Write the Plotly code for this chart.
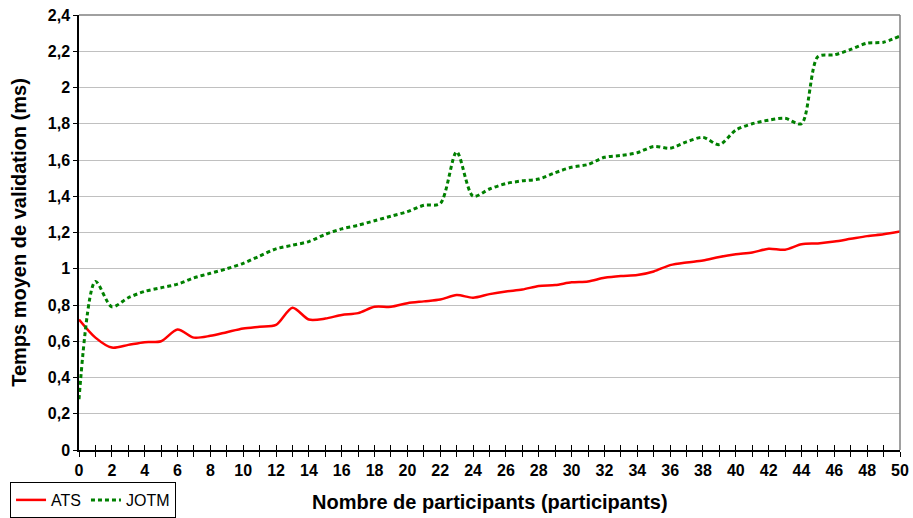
import plotly.graph_objects as go

participants = list(range(0, 51))

ats = [0.72, 0.62, 0.565, 0.58, 0.595, 0.60, 0.665, 0.62, 0.63, 0.65,
       0.67, 0.68, 0.69, 0.785, 0.72, 0.725, 0.745, 0.755, 0.79, 0.79,
       0.81, 0.82, 0.83, 0.855, 0.84, 0.86, 0.875, 0.885, 0.905, 0.91,
       0.925, 0.93, 0.95, 0.96, 0.965, 0.985, 1.02, 1.035, 1.045, 1.065,
       1.08, 1.09, 1.11, 1.105, 1.135, 1.14, 1.15, 1.165, 1.18, 1.19,
       1.205]

jotm = [0.28, 0.93, 0.79, 0.84, 0.875, 0.895, 0.915, 0.95, 0.975, 1.00,
        1.03, 1.07, 1.11, 1.13, 1.15, 1.19, 1.22, 1.24, 1.265, 1.29,
        1.315, 1.35, 1.36, 1.645, 1.40, 1.44, 1.47, 1.485, 1.495, 1.53,
        1.56, 1.575, 1.615, 1.625, 1.64, 1.675, 1.665, 1.70, 1.725, 1.685,
        1.765, 1.80, 1.82, 1.83, 1.80, 2.17, 2.18, 2.21, 2.245, 2.25,
        2.285]

# tick labels (french decimal comma), x labelled every 2 participants
x_ticks = list(range(0, 51))
x_labels = [str(v) if v % 2 == 0 else '' for v in x_ticks]
y_ticks = [0, 0.2, 0.4, 0.6, 0.8, 1.0, 1.2, 1.4, 1.6, 1.8, 2.0, 2.2, 2.4]
y_labels = ['0', '0,2', '0,4', '0,6', '0,8', '1', '1,2', '1,4', '1,6', '1,8', '2', '2,2', '2,4']

font = "Liberation Sans, Arial, sans-serif"

fig = go.Figure()
fig.add_trace(go.Scatter(x=participants, y=ats, mode='lines', name='ATS',
                         line=dict(color='#ff0000', width=2.5, shape='spline', smoothing=0.8)))
fig.add_trace(go.Scatter(x=participants, y=jotm, mode='lines', name='JOTM',
                         line=dict(color='#008000', width=3, shape='spline', smoothing=0.8,
                                   dash='4px,3px')))
# invisible trace on second x axis to draw the upper half of the cross ticks
fig.add_trace(go.Scatter(x=[0, 50], y=[0, 0], xaxis='x2', mode='lines',
                         line=dict(width=0), showlegend=False, hoverinfo='skip'))

fig.update_layout(
    width=913, height=518,
    margin=dict(l=79, r=13, t=15, b=68, autoexpand=False),
    paper_bgcolor='white', plot_bgcolor='white',
    font=dict(family=font, color='black'),
    xaxis=dict(
        range=[0, 50], tickmode='array', tickvals=x_ticks,
        ticktext=['<b>%s</b>' % t for t in x_labels],
        ticks='outside', ticklen=5, tickcolor='black', tickwidth=1,
        showgrid=False, zeroline=False, automargin=False,
        showline=True, linecolor='black', linewidth=1.5,
        tickfont=dict(size=16, family=font),
    ),
    xaxis2=dict(
        range=[0, 50], overlaying='x', matches='x', anchor='y', side='bottom',
        tickmode='array', tickvals=x_ticks, ticks='inside', ticklen=5,
        tickcolor='black', showticklabels=False, showgrid=False, zeroline=False,
        showline=False, automargin=False,
    ),
    yaxis=dict(
        range=[0, 2.4], tickmode='array', tickvals=y_ticks,
        ticktext=['<b>%s</b>' % t for t in y_labels],
        ticks='outside', ticklen=4, tickcolor='black', automargin=False,
        showgrid=True, gridcolor='#c0c0c0', gridwidth=1, zeroline=False,
        showline=True, linecolor='black', linewidth=1.5,
        tickfont=dict(size=16, family=font),
        title=dict(text='<b>Temps moyen de validation (ms)</b>', standoff=16,
                   font=dict(size=20, family=font)),
    ),
    legend=dict(
        orientation='h', x=-0.084, xanchor='left',
        yref='container', y=5, yanchor='bottom',
        bordercolor='black', borderwidth=1, bgcolor='white',
        font=dict(size=16, family=font), tracegroupgap=0,
    ),
    showlegend=True,
)

# x axis title as an annotation so the bottom legend does not push it up
fig.add_annotation(text='<b>Nombre de participants (participants)</b>',
                   xref='paper', yref='paper', x=0.5, y=-0.12,
                   xanchor='center', yanchor='middle', showarrow=False,
                   font=dict(size=20, family=font, color='black'))

# grey frame on top and right like the original
fig.add_shape(type='line', xref='paper', yref='paper', x0=0, x1=1, y0=1, y1=1,
              line=dict(color='#808080', width=1.5))
fig.add_shape(type='line', xref='paper', yref='paper', x0=1, x1=1, y0=0, y1=1,
              line=dict(color='#808080', width=1.5))

fig.write_html("out.html", config={'displayModeBar': False},
               post_script="document.body.style.margin='0';")
